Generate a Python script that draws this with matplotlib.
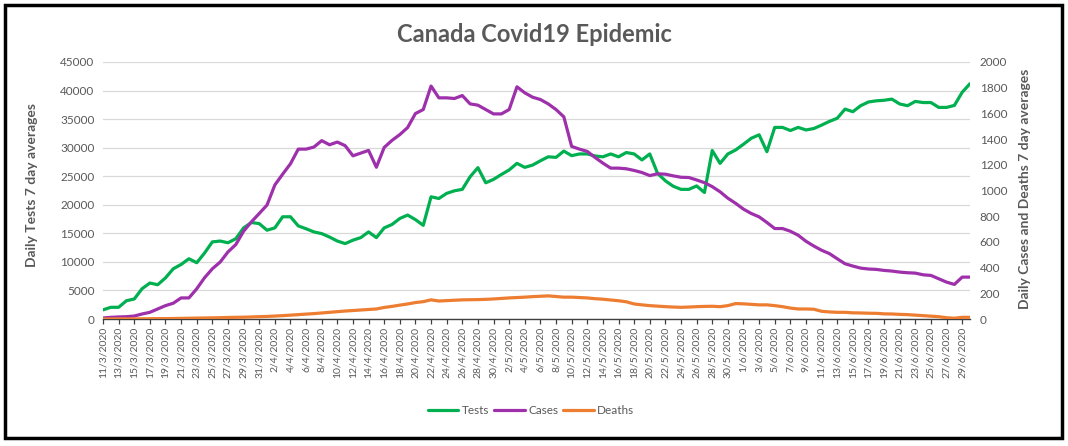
import matplotlib
matplotlib.use("Agg")
import matplotlib.pyplot as plt
from matplotlib.patches import Rectangle
import datetime as dt

plt.rcParams['font.family'] = ['Lato', 'DejaVu Sans']

start = dt.date(2020, 3, 11)
dates = [start + dt.timedelta(days=k) for k in range(112)]
date_labels = [f"{d.day}/{d.month}/{d.year}" for d in dates]

tests = [1600, 2050, 2050, 3200, 3500, 5300, 6300, 6000, 7200, 8800,
         9550, 10550, 9850, 11550, 13500, 13650, 13350, 14050, 15950, 16900,
         16700, 15550, 15950, 17900, 17900, 16300, 15800, 15250, 14950, 14350,
         13650, 13200, 13800, 14250, 15250, 14250, 15950, 16550, 17600, 18200,
         17400, 16400, 21400, 21100, 22000, 22450, 22700, 24900, 26500, 23850,
         24450, 25300, 26100, 27250, 26550, 26950, 27700, 28400, 28300, 29400,
         28600, 28900, 28900, 28550, 28400, 28900, 28400, 29150, 28900, 27850,
         28900, 25500, 24200, 23250, 22700, 22700, 23300, 22150, 29500, 27250,
         28900, 29600, 30600, 31650, 32250, 29300, 33550, 33550, 33000, 33550,
         33100, 33350, 33950, 34600, 35150, 36750, 36300, 37350, 38000, 38200,
         38300, 38500, 37650, 37350, 38100, 37900, 37900, 37050, 37050, 37400,
         39700, 41200]

cases = [8, 13, 16, 18, 23, 39, 52, 78, 104, 123,
         164, 164, 235, 321, 391, 443, 522, 579, 683, 756,
         821, 887, 1043, 1127, 1208, 1322, 1322, 1338, 1388, 1356,
         1377, 1349, 1270, 1291, 1312, 1181, 1335, 1390, 1435, 1490,
         1599, 1630, 1813, 1721, 1721, 1716, 1739, 1674, 1664, 1630,
         1596, 1596, 1630, 1807, 1760, 1726, 1708, 1674, 1630, 1573,
         1343, 1322, 1304, 1257, 1213, 1174, 1174, 1169, 1156, 1140,
         1116, 1130, 1127, 1114, 1103, 1101, 1082, 1061, 1030, 990,
         940, 900, 855, 821, 795, 751, 704, 704, 683, 652,
         605, 568, 535, 509, 469, 430, 412, 396, 389, 386,
         378, 373, 365, 360, 357, 344, 339, 313, 287, 269,
         326, 326]

deaths = [0, 0.5, 1, 1, 1, 1.5, 2, 3, 3, 4,
          5, 6, 7, 8, 9, 10, 12, 13, 14, 16,
          18, 20, 23, 26, 30, 34, 38, 42, 47, 52,
          57, 62, 66, 70, 74, 78, 90, 98, 108, 117,
          128, 135, 149, 140, 143, 146, 149, 150, 151, 153,
          156, 160, 164, 167, 170, 174, 177, 180, 175, 170,
          170, 167, 164, 158, 154, 148, 142, 134, 117, 110,
          104, 100, 96, 93, 91, 93, 96, 98, 99, 96,
          104, 120, 118, 114, 110, 110, 104, 96, 85, 78,
          78, 76, 60, 55, 52, 52, 48, 47, 45, 44,
          40, 39, 36, 34, 30, 26, 22, 18, 10, 6,
          13, 13]

left_ticks = list(range(0, 45001, 5000))
right_ticks = list(range(0, 2001, 200))

GREEN = '#00b050'
PURPLE = '#9e30ab'
ORANGE = '#ed7d31'
GRAY = '#595959'

fig = plt.figure(figsize=(10.68, 4.46), dpi=100)
ax = fig.add_axes([103/1068, 127/446, 867/1068, 257/446])
ax2 = ax.twinx()

x = list(range(len(dates)))
l1, = ax.plot(x, tests, color=GREEN, lw=2.3, label='Tests', solid_capstyle='round')
l2, = ax2.plot(x, cases, color=PURPLE, lw=2.3, label='Cases', solid_capstyle='round')
l3, = ax2.plot(x, deaths, color=ORANGE, lw=2.3, label='Deaths', solid_capstyle='round')

ax.set_xlim(0, len(dates) - 1)
ax.set_ylim(0, 45000)
ax2.set_ylim(0, 2000)
ax.set_yticks(left_ticks)
ax2.set_yticks(right_ticks)
ax.grid(axis='y', color='#d9d9d9', lw=0.9)
ax.set_axisbelow(True)

ax.set_xticks(x[::2])
ax.set_xticklabels(date_labels[::2], rotation=90, fontsize=7.5, color=GRAY)
ax.tick_params(axis='x', direction='out', length=3.5, width=0.9, color='#404040', pad=2)
ax.tick_params(axis='y', length=0, pad=6, labelsize=8.5, labelcolor=GRAY)
ax2.tick_params(axis='y', length=0, pad=7, labelsize=8.5, labelcolor=GRAY)

for a in (ax, ax2):
    for s in ('left', 'right', 'top'):
        a.spines[s].set_visible(False)
ax.spines['bottom'].set_color('#404040')
ax.spines['bottom'].set_linewidth(1.0)
ax2.spines['bottom'].set_visible(False)

fig.text(534/1068, 1 - 35/446, 'Canada Covid19 Epidemic', ha='center', va='center',
         fontsize=17, color=GRAY, fontweight='bold')
fig.text(32/1068, 1 - 185/446, 'Daily Tests 7 day averages', rotation=90,
         ha='center', va='center', fontsize=10, fontweight='bold', color=GRAY)
fig.text(1025/1068, 1 - 189/446, 'Daily Cases and Deaths 7 day averages', rotation=90,
         ha='center', va='center', fontsize=10, fontweight='bold', color=GRAY)

fig.legend(handles=[l1, l2, l3], loc='center', bbox_to_anchor=(531/1068, 1 - 411/446),
           ncol=3, frameon=False, fontsize=8.5, handlelength=2.6, handletextpad=0.3,
           columnspacing=0.4, labelcolor=GRAY)

fig.patches.append(Rectangle((5/1068, 8/446), 1057/1068, 433/446, transform=fig.transFigure,
                             fill=False, edgecolor='black', lw=2.5, zorder=10))

fig.savefig('out.png', dpi=100)
